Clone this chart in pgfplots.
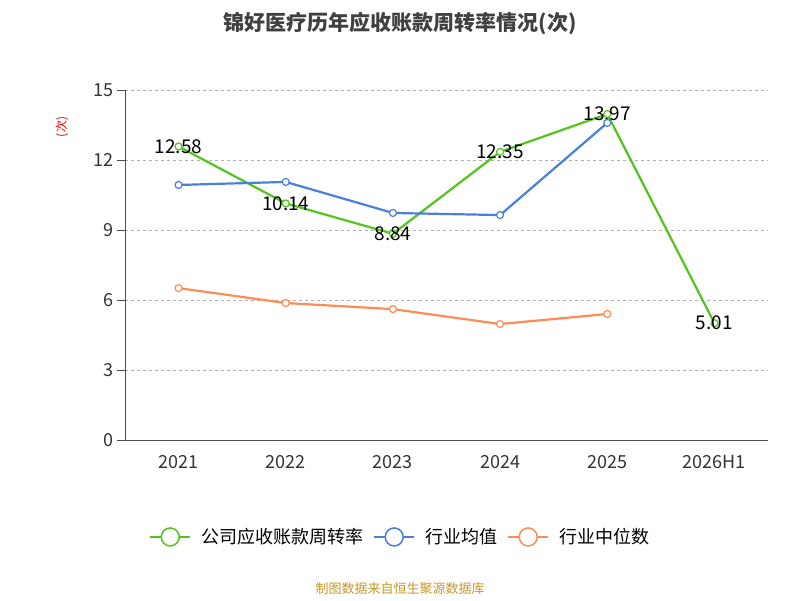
\documentclass[border=0pt]{standalone}
\usepackage{pgfplots}
\pgfplotsset{compat=1.18}
\usepackage{fontspec}
\setmainfont{Noto Sans CJK SC}
\definecolor{cg}{HTML}{52C41A}
\definecolor{cb}{HTML}{4A7FE0}
\definecolor{co}{HTML}{FF8C55}
\begin{document}
\begin{tikzpicture}
\path[use as bounding box] (0pt,0pt) rectangle (800pt,600pt);
\node[font=\bfseries\fontsize{21}{24}\selectfont,text=black!75] at (400pt,576pt) {锦好医疗历年应收账款周转率情况(次)};
\node[rotate=90,text=red,font=\fontsize{12}{14}\selectfont] at (62pt,473pt) {(次)};
\node[font=\fontsize{13}{15}\selectfont,text={rgb,255:red,200;green,150;blue,40}] at (400pt,11pt) {制图数据来自恒生聚源数据库};
\begin{axis}[at={(125pt,160pt)},anchor=south west,scale only axis,width=643pt,height=350pt,
 xmin=-0.5,xmax=5.5,ymin=0,ymax=15,
 xtick={0,...,5},xticklabels={2021,2022,2023,2024,2025,2026H1},
 extra x ticks={-0.5,0.5,1.5,2.5,3.5,4.5,5.5},extra x tick labels={},
 extra x tick style={major tick length=8pt,tick style={black!70}},
 x tick style={draw=none},
 ytick={0,3,...,15},ymajorgrids,
 grid style={dashed,gray!60},
 axis x line*=bottom,axis y line*=left,
 axis line style={black!70},
 y tick style={black!70},major tick length=8pt,tick align=outside,
 tick label style={font=\fontsize{18}{20}\selectfont,text=black!80},
 /pgf/number format/assume math mode=true,
 xticklabel style={yshift=-4pt},
 legend columns=3,
 legend style={at={(0.428,-0.277)},anchor=center,draw=none,font=\fontsize{18}{20}\selectfont,column sep=8pt},
 legend image code/.code={\draw[#1,line width=2pt] (0pt,0pt)--(40pt,0pt);\draw[#1,fill=white,line width=1.5pt] (20pt,0pt) circle (9pt);},
 clip=false]
\addplot[cg,line width=2.2pt,mark=*,mark size=3.5pt,mark options={fill=white,line width=1.2pt},
 nodes near coords,point meta=explicit symbolic,
 every node near coord/.style={anchor=center,text=black,font=\fontsize{19}{21}\selectfont}]
 coordinates {(0,12.58)[12.58] (1,10.14)[10.14] (2,8.84)[8.84] (3,12.35)[12.35] (4,13.97)[13.97] (5,5.01)[5.01]};
\addlegendentry{公司应收账款周转率}
\addplot[cb,line width=2.2pt,mark=*,mark size=3.5pt,mark options={fill=white,line width=1.2pt}]
 coordinates {(0,10.93) (1,11.06) (2,9.73) (3,9.64) (4,13.59)};
\addlegendentry{行业均值}
\addplot[co,line width=2.2pt,mark=*,mark size=3.5pt,mark options={fill=white,line width=1.2pt}]
 coordinates {(0,6.51) (1,5.87) (2,5.61) (3,4.97) (4,5.4)};
\addlegendentry{行业中位数}
\end{axis}
\end{tikzpicture}
\end{document}
